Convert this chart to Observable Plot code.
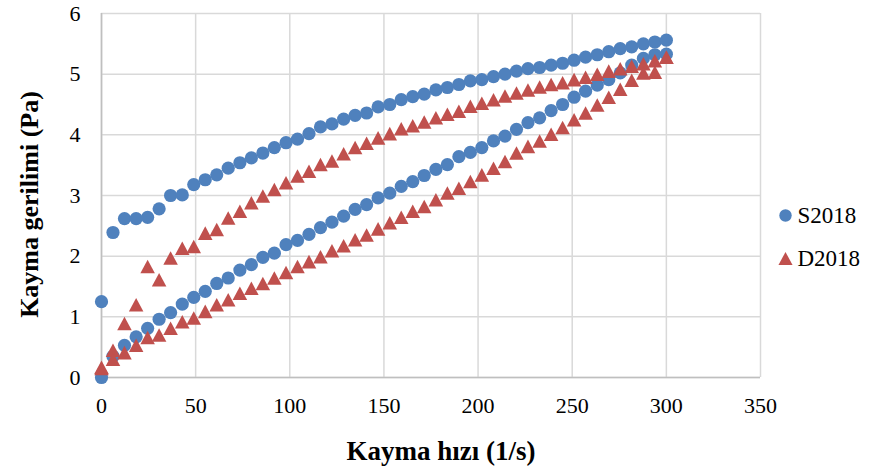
<!DOCTYPE html>
<html>
<head>
<meta charset="utf-8">
<script src="https://cdn.jsdelivr.net/npm/d3@7"></script>
<script src="https://cdn.jsdelivr.net/npm/@observablehq/plot@0.6"></script>
<style>
  html, body { margin: 0; padding: 0; background: #fff; }
  #chart { width: 876px; height: 469px; }
</style>
</head>
<body>
<div id="chart"></div>
<script>
// Shear rate (1/s), ascending
const shearRate = [0, 6.1, 12.2, 18.4, 24.5, 30.6, 36.7, 42.9, 49.0, 55.1,
  61.2, 67.3, 73.5, 79.6, 85.7, 91.8, 98.0, 104.1, 110.2, 116.3,
  122.4, 128.6, 134.7, 140.8, 146.9, 153.1, 159.2, 165.3, 171.4, 177.6,
  183.7, 189.8, 195.9, 202.0, 208.2, 214.3, 220.4, 226.5, 232.7, 238.8,
  244.9, 251.0, 257.1, 263.3, 269.4, 275.5, 281.6, 287.8, 293.9, 300.0];

// S2018: increasing-rate branch and decreasing-rate branch (listed by ascending rate)
const s2018Up = [1.25, 2.39, 2.62, 2.62, 2.64, 2.78, 3.00, 3.01, 3.18, 3.26,
  3.34, 3.45, 3.54, 3.62, 3.70, 3.79, 3.87, 3.93, 4.02, 4.13,
  4.18, 4.26, 4.32, 4.36, 4.46, 4.50, 4.58, 4.63, 4.67, 4.74,
  4.78, 4.83, 4.89, 4.91, 4.96, 5.00, 5.05, 5.09, 5.11, 5.15,
  5.18, 5.23, 5.28, 5.32, 5.37, 5.42, 5.45, 5.50, 5.53, 5.56];
const s2018Down = [0.00, 0.35, 0.53, 0.67, 0.81, 0.96, 1.07, 1.21, 1.32, 1.42,
  1.55, 1.64, 1.77, 1.86, 1.98, 2.05, 2.19, 2.26, 2.36, 2.47,
  2.56, 2.66, 2.77, 2.85, 2.96, 3.04, 3.15, 3.23, 3.33, 3.43,
  3.51, 3.64, 3.71, 3.79, 3.90, 3.98, 4.09, 4.20, 4.28, 4.40,
  4.50, 4.62, 4.72, 4.82, 4.91, 5.02, 5.15, 5.26, 5.32, 5.33];

// D2018
const d2018Up = [0.15, 0.45, 0.89, 1.20, 1.83, 1.61, 1.97, 2.13, 2.16, 2.38,
  2.44, 2.63, 2.74, 2.88, 2.99, 3.10, 3.21, 3.32, 3.40, 3.51,
  3.57, 3.69, 3.79, 3.86, 3.95, 4.02, 4.10, 4.15, 4.21, 4.28,
  4.34, 4.39, 4.47, 4.52, 4.58, 4.64, 4.69, 4.74, 4.79, 4.83,
  4.86, 4.91, 4.95, 5.00, 5.05, 5.09, 5.13, 5.17, 5.22, 5.28];
const d2018Down = [0.17, 0.30, 0.41, 0.53, 0.66, 0.70, 0.81, 0.92, 0.98, 1.09,
  1.20, 1.28, 1.39, 1.47, 1.55, 1.64, 1.73, 1.83, 1.91, 1.99,
  2.09, 2.17, 2.27, 2.35, 2.45, 2.55, 2.64, 2.74, 2.82, 2.93,
  3.04, 3.12, 3.23, 3.34, 3.45, 3.56, 3.70, 3.81, 3.90, 4.01,
  4.12, 4.25, 4.36, 4.49, 4.62, 4.75, 4.90, 5.02, 5.03, 5.28];

const seriesNames = ["S2018", "D2018"];
const seriesColors = ["#4F81BD", "#C0504D"];
const xTicks = [0, 50, 100, 150, 200, 250, 300, 350];
const yTicks = [0, 1, 2, 3, 4, 5, 6];

const rows = (name, up, down) => [
  ...shearRate.map((x, i) => ({series: name, branch: "up", rate: x, stress: up[i]})),
  ...shearRate.map((x, i) => ({series: name, branch: "down", rate: x, stress: down[i]}))
];
const sRows = rows(seriesNames[0], s2018Up, s2018Down);
const dRows = rows(seriesNames[1], d2018Up, d2018Down);

// Excel-like triangle marker (bbox-centred)
const triangle = {
  draw(context, size) {
    const r = Math.sqrt(size / Math.PI);
    const h = r * 2.05, w = r * 2.2;
    context.moveTo(0, -h / 2);
    context.lineTo(w / 2, h / 2);
    context.lineTo(-w / 2, h / 2);
    context.closePath();
  }
};

const font = "Liberation Serif, Times New Roman, serif";
const gridColor = "#d9d9d9";

const chart = Plot.plot({
  width: 876,
  height: 469,
  marginLeft: 101,
  marginRight: 116,
  marginTop: 13,
  marginBottom: 92,
  style: {fontFamily: font, fontSize: "22px", color: "#000", background: "#fff", overflow: "visible"},
  x: {domain: [0, 350]},
  y: {domain: [0, 6]},
  marks: [
    Plot.gridX(xTicks, {stroke: gridColor, strokeOpacity: 1, strokeWidth: 1.5}),
    Plot.gridY(yTicks, {stroke: gridColor, strokeOpacity: 1, strokeWidth: 1.5}),
    Plot.ruleY([0], {stroke: "#bfbfbf", strokeWidth: 1.6}),
    Plot.ruleX([0], {stroke: "#bfbfbf", strokeWidth: 1.6}),
    Plot.axisX({ticks: xTicks, tickSize: 0, tickPadding: 20, label: null, fontSize: 22, tickFormat: d => String(d)}),
    Plot.axisY({ticks: yTicks, tickSize: 0, tickPadding: 21, label: null, fontSize: 22, tickFormat: d => String(d)}),
    Plot.dot(sRows, {x: "rate", y: "stress", r: 6.6, symbol: "circle", fill: seriesColors[0], stroke: "none"}),
    Plot.dot(dRows, {x: "rate", y: "stress", r: 6.6, symbol: triangle, fill: seriesColors[1], stroke: "none"}),
    // axis titles
    Plot.text(["Kayma hızı (1/s)"], {frameAnchor: "bottom", dx: 10, dy: 74, textAnchor: "middle", lineAnchor: "middle", fontSize: 27, fontWeight: "bold", fill: "#000"}),
    Plot.text(["Kayma gerilimi (Pa)"], {frameAnchor: "left", dx: -72, dy: 9, rotate: -90, textAnchor: "middle", lineAnchor: "middle", fontSize: 26, fontWeight: "bold", fill: "#000"}),
    // legend
    Plot.dot([seriesNames[0]], {frameAnchor: "right", dx: 25, dy: 20, r: 6.2, symbol: "circle", fill: seriesColors[0]}),
    Plot.text([seriesNames[0]], {frameAnchor: "right", dx: 37, dy: 20, textAnchor: "start", lineAnchor: "middle", fontSize: 23, fill: "#000"}),
    Plot.dot([seriesNames[1]], {frameAnchor: "right", dx: 25, dy: 63, r: 6.4, symbol: triangle, fill: seriesColors[1]}),
    Plot.text([seriesNames[1]], {frameAnchor: "right", dx: 37, dy: 63, textAnchor: "start", lineAnchor: "middle", fontSize: 23, fill: "#000"})
  ]
});
document.getElementById("chart").appendChild(chart);
</script>
</body>
</html>
